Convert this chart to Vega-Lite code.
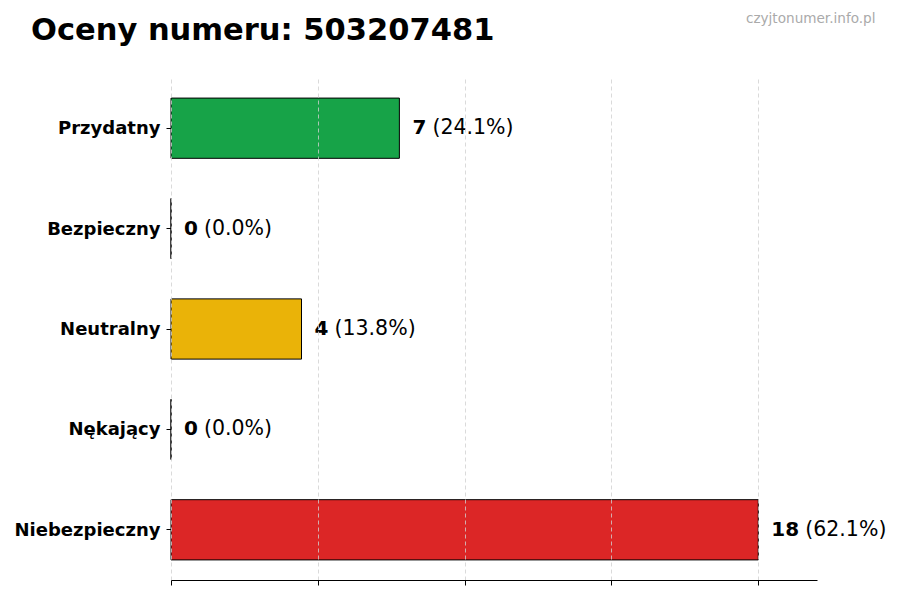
{
  "$schema": "https://vega.github.io/schema/vega-lite/v6.json",
  "width": 646,
  "height": 502,
  "autosize": "none",
  "padding": {"left": 171, "top": 78, "right": 83, "bottom": 20},
  "background": "white",
  "title": {
    "text": "Oceny numeru: 503207481",
    "anchor": "start",
    "frame": "group",
    "dx": -140,
    "dy": 39,
    "fontSize": 30.5,
    "fontWeight": "bold",
    "color": "black",
    "font": "DejaVu Sans"
  },
  "data": {
    "values": [
      {"kategoria": "Przydatny", "liczba": 7, "procent": 24.1},
      {"kategoria": "Bezpieczny", "liczba": 0, "procent": 0.0},
      {"kategoria": "Neutralny", "liczba": 4, "procent": 13.8},
      {"kategoria": "Nękający", "liczba": 0, "procent": 0.0},
      {"kategoria": "Niebezpieczny", "liczba": 18, "procent": 62.1}
    ]
  },
  "transform": [
    {"calculate": "'(' + format(datum.procent, '.1f') + '%)'", "as": "opis"}
  ],
  "encoding": {
    "y": {
      "field": "kategoria",
      "type": "nominal",
      "sort": ["Przydatny", "Bezpieczny", "Neutralny", "Nękający", "Niebezpieczny"],
      "scale": {"paddingInner": 0.4, "paddingOuter": 0.2},
      "axis": {
        "title": null,
        "domain": false,
        "grid": false,
        "ticks": true,
        "tickSize": 5,
        "tickColor": "black",
        "labelFontSize": 18,
        "labelFontWeight": "bold",
        "labelColor": "black",
        "labelPadding": 6,
        "labelBaseline": "middle",
        "labelOffset": 1
      }
    }
  },
  "layer": [
    {
      "mark": {"type": "bar", "stroke": "black", "strokeWidth": 1},
      "encoding": {
        "x": {
          "field": "liczba",
          "type": "quantitative",
          "scale": {"domain": [0, 19.8], "nice": false, "zero": true},
          "axis": {
            "orient": "bottom",
            "title": null,
            "values": [0, 4.5, 9, 13.5, 18],
            "labels": false,
            "grid": true,
            "gridDash": [4, 3],
            "gridColor": "#d0d0d0",
            "gridWidth": 0.8,
            "domainColor": "black",
            "tickColor": "black",
            "tickSize": 5,
            "zindex": 1
          }
        },
        "color": {
          "field": "kategoria",
          "type": "nominal",
          "legend": null,
          "scale": {
            "domain": ["Przydatny", "Bezpieczny", "Neutralny", "Nękający", "Niebezpieczny"],
            "range": ["#17a348", "#2563eb", "#eab308", "#f97316", "#dc2626"]
          }
        }
      }
    },
    {
      "mark": {"type": "text", "align": "left", "baseline": "middle", "dx": 13, "dy": 0, "fontSize": 20, "fontWeight": "bold", "color": "black"},
      "encoding": {
        "x": {
          "field": "liczba",
          "type": "quantitative",
          "axis": {
            "orient": "top",
            "title": "czyjtonumer.info.pl",
            "titleFontSize": 13.6,
            "titleFontWeight": "normal",
            "titleColor": "#aaaaaa",
            "titleAnchor": "end",
            "titleAlign": "right",
            "titleBaseline": "alphabetic",
            "titleX": 704,
            "titleY": -56,
            "labels": false,
            "ticks": false,
            "domain": false,
            "grid": false
          }
        },
        "text": {"field": "liczba", "type": "quantitative"}
      }
    },
    {
      "transform": [{"filter": "datum.liczba < 10"}],
      "mark": {"type": "text", "align": "left", "baseline": "middle", "dx": 33, "dy": 0, "fontSize": 20.5, "color": "black"},
      "encoding": {
        "x": {"field": "liczba", "type": "quantitative", "axis": null},
        "text": {"field": "opis", "type": "nominal"}
      }
    },
    {
      "transform": [{"filter": "datum.liczba >= 10"}],
      "mark": {"type": "text", "align": "left", "baseline": "middle", "dx": 47, "dy": 0, "fontSize": 20.5, "color": "black"},
      "encoding": {
        "x": {"field": "liczba", "type": "quantitative", "axis": null},
        "text": {"field": "opis", "type": "nominal"}
      }
    }
  ],
  "resolve": {"axis": {"x": "independent"}},
  "config": {
    "font": "DejaVu Sans",
    "view": {"stroke": null}
  }
}
